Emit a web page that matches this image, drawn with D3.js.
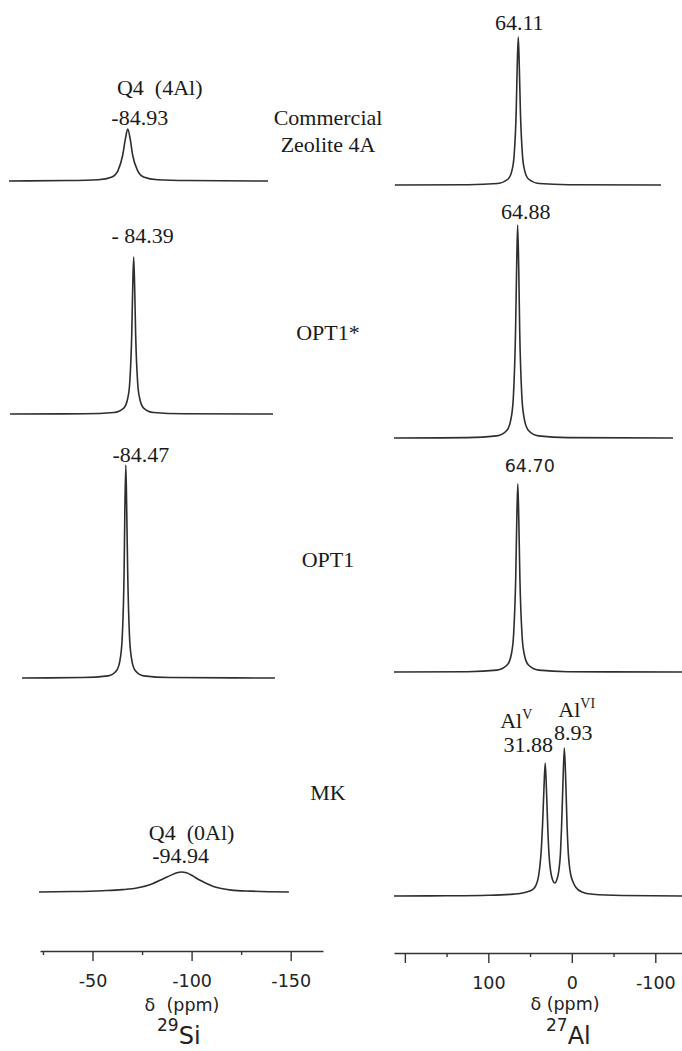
<!DOCTYPE html>
<html>
<head>
<meta charset="utf-8">
<script src="https://cdn.jsdelivr.net/npm/d3@7"></script>
<style>
    body { margin: 0; background: #fff; }
    svg { display: block; }
    .serif { font-family: "Liberation Serif", "Times New Roman", serif; font-size: 22px; fill: #1a1a1a; white-space: pre; }
    .sans { font-family: "DejaVu Sans", Verdana, sans-serif; font-size: 17.5px; fill: #222; white-space: pre; }
    .trace { fill: none; stroke: #2e2e2e; stroke-width: 1.6; }
    .axis path, .axis line { stroke: #333; stroke-width: 1.4; }
    .axis text { font-family: "DejaVu Sans", Verdana, sans-serif; font-size: 17.5px; fill: #222; }
</style>
</head>
<body>
<svg id="chart" width="682" height="1051"></svg>
<script>
// sample order, top to bottom
const samples = ["Commercial Zeolite 4A", "OPT1*", "OPT1", "MK"];
const sampleLines = [["Commercial", "Zeolite 4A"], ["OPT1*"], ["OPT1"], ["MK"]];

// 29Si spectra: [ppm, intensity a.u.]
const siCommercial = [[-25.0, 0], [-55, 0.2], [-70, 0.6], [-77, 1.9], [-80, 4.9], [-82.4, 12.2], [-83.7, 19.5], [-84.93, 24.4],
    [-86.2, 19.5], [-87.4, 12.2], [-89.9, 4.9], [-92.9, 1.9], [-100, 0.6], [-115, 0.2], [-155.7, 0]];
const siOpt1Star = [[-22.0, 0], [-59.4, 0.1], [-74.4, 0.7], [-79.4, 2.8], [-81.4, 7.4], [-82.4, 14.7], [-83.4, 36.9], [-83.9, 59],
    [-84.39, 73.7], [-84.9, 59], [-85.4, 36.9], [-86.4, 14.7], [-87.4, 7.4], [-89.4, 2.8], [-94.4, 0.7], [-109.4, 0.1], [-154.7, 0]];
const siOpt1 = [[-32.1, 0], [-62.5, 0.2], [-75.5, 1.0], [-80, 3.8], [-81.8, 10], [-82.7, 20], [-83.6, 50], [-84.0, 80],
    [-84.47, 100], [-84.9, 80], [-85.4, 50], [-86.3, 20], [-87.2, 10], [-89, 3.8], [-93.5, 1.0], [-106.5, 0.2], [-159.7, 0]];
const siMK = [[-23.0, 0], [-40, 0.2], [-55, 0.6], [-65, 1.1], [-73, 2.0], [-80, 3.8], [-85, 5.9], [-89.4, 7.8], [-92.5, 9.0],
    [-94.94, 9.4], [-97.4, 9.0], [-100.5, 7.6], [-104, 5.6], [-107, 4.2], [-111, 2.6], [-115, 1.6], [-120, 0.9], [-130, 0.4], [-149.1, 0]];

// 27Al spectra: [ppm, intensity a.u.]
const alCommercial = [[212, 0], [124, 0.12], [89.1, 0.69], [76.6, 2.7], [71.6, 7.0], [69.1, 13.9], [66.6, 34.8], [65.4, 55.6],
    [64.11, 69.5], [62.9, 55.6], [61.6, 34.8], [59.1, 13.9], [56.6, 7.0], [51.6, 2.7], [39.1, 0.69], [4, 0.12], [-106.8, 0]];
const alOpt1Star = [[213, 0], [124.9, 0.17], [89.9, 1.0], [77.4, 3.8], [72.4, 10], [69.9, 20], [67.4, 50], [66.1, 80],
    [64.88, 100], [63.6, 80], [62.4, 50], [59.9, 20], [57.4, 10], [52.4, 3.8], [39.9, 1.0], [4.9, 0.17], [-121.2, 0]];
const alOpt1 = [[213, 0], [124.7, 0.15], [89.7, 0.87], [77.2, 3.4], [72.2, 8.8], [69.7, 17.7], [67.2, 44.2], [65.95, 70.6],
    [64.70, 88.3], [63.45, 70.6], [62.2, 44.2], [59.7, 17.7], [57.2, 8.8], [52.2, 3.4], [39.7, 0.87], [4.7, 0.15], [-132, 0]];
const alMK = [[213, 0], [150, 0.1], [100, 0.35], [70, 0.9], [55, 1.8], [47, 3.0], [43, 5], [40, 9], [38, 15], [36.5, 22],
    [35.2, 32], [33.6, 48], [31.88, 62.4], [30.2, 48], [28.8, 32], [27.4, 20], [25.5, 12], [23, 7.5], [20.4, 6.1], [17.8, 7.8],
    [15.5, 12], [13.6, 20], [12.3, 32], [10.7, 52], [8.93, 69.5], [7.1, 52], [5.6, 32], [4.2, 20], [2.2, 12], [-1, 7], [-5, 4],
    [-12, 1.9], [-25, 0.8], [-60, 0.2], [-132, 0]];

const siSpectra = [siCommercial, siOpt1Star, siOpt1, siMK];
const alSpectra = [alCommercial, alOpt1Star, alOpt1, alMK];

// peak positions and their labels
const siPeaks = [[-84.93], [-84.39], [-84.47], [-94.94]];
const alPeaks = [[64.11], [64.88], [64.70], [31.88, 8.93]];
const siLabelText = [["Q4  (4Al)", "-84.93"], ["- 84.39"], ["-84.47"], ["Q4  (0Al)", "-94.94"]];
const alLabelText = [["64.11"], ["64.88"], ["64.70"], ["Al^V", "31.88", "Al^VI", "8.93"]];

// axis ticks
const siTicksMajor = [-50, -100, -150];
const siTicksMinor = [-25, -75, -125];
const alTicksMajor = [200, 100, 0, -100];
const alTicksLabelled = [100, 0, -100];
const alTicksMinor = [150, 50, -50];

// ---- layout ----
const ampPx = 213;
const siLayout = { baselines: [181, 414, 678, 892], dx: [-34, -27, -35, 0], axisY: 951 };
const alLayout = { baselines: [185, 438, 672, 896], dx: [0, 0, 0, 0], axisY: 953 };
// [peak index, dx, dy, anchor, class]
const siLabelPos = [
    [[0, 32, -34, "middle", "serif"], [0, 12, -4, "middle", "serif"]],
    [[0, 9, -14, "middle", "serif"]],
    [[0, 15, -3, "middle", "serif"]],
    [[0, 10, -32, "middle", "serif"], [0, -1, -9, "middle", "serif"]]
];
const alLabelPos = [
    [[0, 1, -7, "middle", "serif"]],
    [[0, 8, -6, "middle", "serif"]],
    [[0, 12, -12, "middle", "sans"]],
    [[0, -45, -35, "start", "serif"], [0, -17, -11, "middle", "serif"], [1, -6, -31, "start", "serif"], [1, 9, -8, "middle", "serif"]]
];
const sampleX = 328;
const sampleY = [[125, 152], [340], [567], [800]];

const svg = d3.select("#chart");

const siAxis = d3.scaleLinear().domain([-23.5, -166.3]).range([40, 323]);
const alAxis = d3.scaleLinear().domain([213, -132]).range([394, 682]);

function drawColumn(axisScale, spectra, peaks, labelText, labelPos, lay) {
    spectra.forEach((spec, i) => {
        let x = axisScale.copy().range(axisScale.range().map(r => r + lay.dx[i]));
        let y = d3.scaleLinear().domain([0, 100]).range([lay.baselines[i], lay.baselines[i] - ampPx]);
        let line = d3.line()
            .x(d => x(d[0]))
            .y(d => y(d[1]))
            .curve(d3.curveMonotoneX);
        svg.append("path").attr("class", "trace").attr("d", line(spec));

        labelText[i].forEach((txt, j) => {
            let [pk, dx, dy, anchor, cls] = labelPos[i][j];
            let peak = peaks[i][pk];
            let top = spec.find(d => d[0] === peak)[1];
            let t = svg.append("text")
                .attr("class", cls)
                .attr("x", x(peak) + dx)
                .attr("y", y(top) + dy)
                .attr("text-anchor", anchor);
            let parts = txt.split("^");
            t.append("tspan").text(parts[0]);
            if (parts[1]) {
                t.append("tspan").attr("font-size", 14).attr("dy", -9).text(parts[1]);
            }
        });
    });
}

drawColumn(siAxis, siSpectra, siPeaks, siLabelText, siLabelPos, siLayout);
drawColumn(alAxis, alSpectra, alPeaks, alLabelText, alLabelPos, alLayout);

// sample names in the middle
sampleLines.forEach((lines, i) => {
    lines.forEach((l, j) => {
        svg.append("text").attr("class", "serif")
            .attr("x", sampleX).attr("y", sampleY[i][j])
            .attr("text-anchor", "middle")
            .text(l);
    });
});

function drawAxis(scale, y, major, minor, labelled) {
    let g = svg.append("g").attr("class", "axis").attr("transform", `translate(0,${y})`);
    g.call(d3.axisBottom(scale).tickValues(major).tickSize(10).tickSizeOuter(0).tickPadding(14)
        .tickFormat(d => labelled.includes(d) ? String(d) : ""));
    let m = svg.append("g").attr("class", "axis").attr("transform", `translate(0,${y})`);
    m.call(d3.axisBottom(scale).tickValues(minor).tickSize(4).tickSizeOuter(0).tickFormat(""));
    m.select(".domain").remove();
}

drawAxis(siAxis, siLayout.axisY, siTicksMajor, siTicksMinor, siTicksMajor);
drawAxis(alAxis, alLayout.axisY, alTicksMajor, alTicksMinor, alTicksLabelled);

// axis titles
svg.append("text").attr("class", "sans").attr("font-size", 18)
    .attr("x", 182).attr("y", 1011).attr("text-anchor", "middle").text("δ  (ppm)");
svg.append("text").attr("class", "sans").attr("font-size", 18)
    .attr("x", 565).attr("y", 1010).attr("text-anchor", "middle").text("δ (ppm)");

function nucleus(x, mass, sym) {
    let t = svg.append("text").attr("class", "sans").attr("x", x).attr("y", 1044);
    t.append("tspan").attr("font-size", 17).attr("dy", -13).text(mass);
    t.append("tspan").attr("font-size", 24).attr("dy", 13).text(sym);
}
nucleus(157, "29", "Si");
nucleus(546, "27", "Al");
</script>
</body>
</html>
